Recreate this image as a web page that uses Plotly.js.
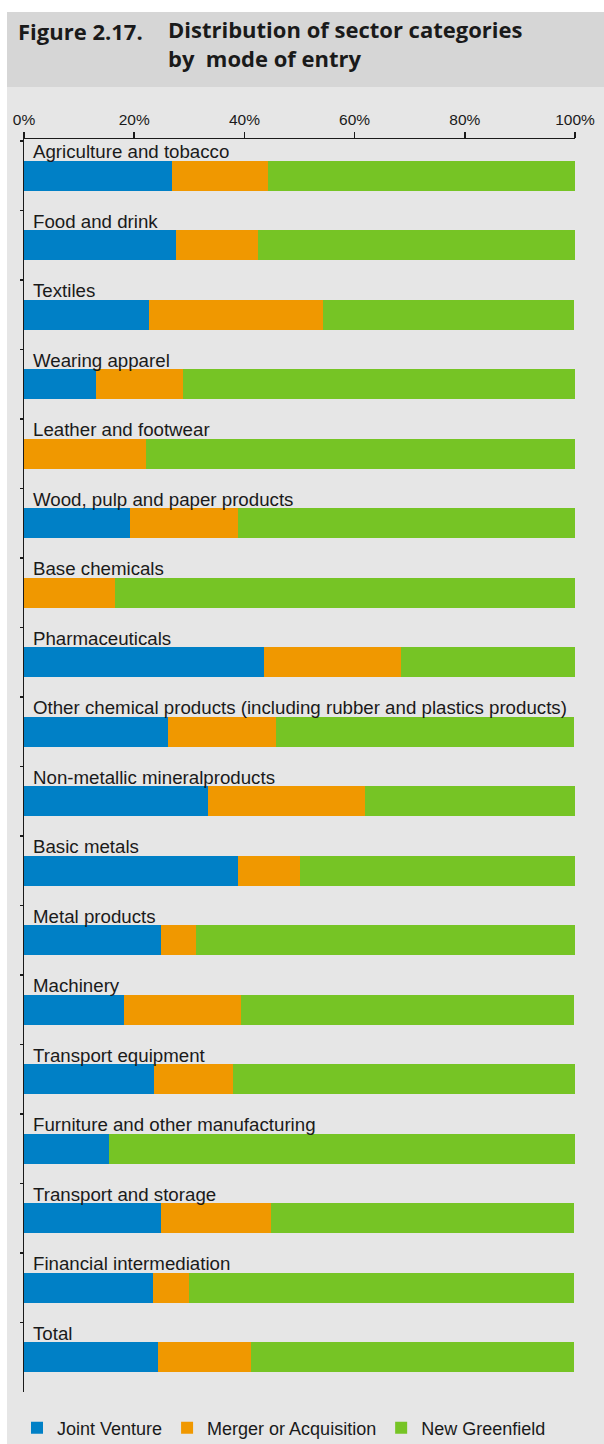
<!DOCTYPE html>
<html>
<head>
<meta charset="utf-8">
<script src="https://cdn.plot.ly/plotly-3.0.1.min.js"></script>
<style>
  html, body { margin: 0; padding: 0; background: #ffffff; }
  #chart { width: 604px; height: 1444px; }
</style>
</head>
<body>
<div id="chart"></div>
<script>
// ---- data (percent of entries by mode) ----
const categories = [
  "Agriculture and tobacco",
  "Food and drink",
  "Textiles",
  "Wearing apparel",
  "Leather and footwear",
  "Wood, pulp and paper products",
  "Base chemicals",
  "Pharmaceuticals",
  "Other chemical products (including rubber and plastics products)",
  "Non-metallic mineralproducts",
  "Basic metals",
  "Metal products",
  "Machinery",
  "Transport equipment",
  "Furniture and other manufacturing",
  "Transport and storage",
  "Financial intermediation",
  "Total"
];
const jointVenture = [26.9, 27.5, 22.7, 13.1, 0, 19.2, 0, 43.6, 26.1, 33.4, 38.8, 24.9, 18.1, 23.6, 15.4, 24.9, 23.4, 24.3];
const mergerAcq    = [17.4, 14.9, 31.6, 15.8, 22.1, 19.6, 16.6, 24.9, 19.6, 28.5, 11.2, 6.3, 21.3, 14.3, 0, 19.9, 6.5, 16.9];
const greenfield   = [55.7, 57.6, 45.5, 71.1, 77.9, 61.2, 83.4, 31.5, 54.1, 38.1, 50.0, 68.8, 60.4, 62.1, 84.6, 55.0, 69.9, 58.6];
const seriesNames  = ["Joint Venture", "Merger or Acquisition", "New Greenfield"];
const seriesColors = ["#0080c6", "#f09800", "#76c425"];
const tickValues   = [0, 20, 40, 60, 80, 100];
const tickLabels   = ["0%", "20%", "40%", "60%", "80%", "100%"];
const titleNumber  = "Figure 2.17.";
const titleText    = "Distribution of sector categories<br>by&nbsp; mode of entry";

// ---- layout geometry (pixels) ----
const W = 604, H = 1444;
const M = { l: 24, r: 29, t: 139, b: 52, autoexpand: false };
const plotW = W - M.l - M.r, plotH = H - M.t - M.b;
const px2x = p => (p - M.l) / plotW;
const px2y = p => (H - M.b - p) / plotH;

const seriesValues = [jointVenture, mergerAcq, greenfield];
const traces = seriesNames.map((name, i) => ({
  type: "bar",
  orientation: "h",
  name: name,
  y: categories,
  x: seriesValues[i],
  marker: { color: seriesColors[i], line: { width: 0 } },
  width: 0.43,
  hoverinfo: "name+x"
}));

const labelFont = { family: "Liberation Sans, Arial, sans-serif", size: 18.7, color: "#1a1a1a" };
const titleFont = { family: "Open Sans, sans-serif", size: 22, color: "#1a1a1a", weight: 700 };

const annotations = categories.map(c => ({
  x: 0, xref: "x", y: c, yref: "y",
  text: c, showarrow: false,
  xanchor: "left", yanchor: "middle",
  xshift: 7, yshift: 24,
  font: labelFont
}));
annotations.push({
  x: px2x(16), xref: "paper", y: px2y(31), yref: "paper",
  text: titleNumber, showarrow: false,
  xanchor: "left", yanchor: "middle",
  font: titleFont
});

const layout = {
  width: W, height: H,
  margin: M,
  paper_bgcolor: "#ffffff",
  plot_bgcolor: "rgba(0,0,0,0)",
  barmode: "stack",
  showlegend: true,
  title: {
    text: titleText,
    xref: "container", yref: "container",
    x: 168 / W, xanchor: "left",
    y: 1 - 38 / H, yanchor: "top",
    font: titleFont
  },
  xaxis: {
    side: "top",
    range: [0, 100],
    tickvals: tickValues,
    ticktext: tickLabels,
    ticks: "outside", ticklen: 6, tickwidth: 1.5, tickcolor: "#1a1a1a",
    showline: true, linecolor: "#1a1a1a", linewidth: 1.5,
    showgrid: false, zeroline: false,
    tickfont: { family: "Liberation Sans, Arial, sans-serif", size: 15.5, color: "#1a1a1a" },
    fixedrange: true
  },
  yaxis: {
    type: "category",
    categoryorder: "array", categoryarray: categories,
    range: [17.5, -0.53],
    showticklabels: false,
    ticks: "outside", tickson: "boundaries", ticklen: 3, tickwidth: 1.5, tickcolor: "#1a1a1a",
    showline: true, linecolor: "#1a1a1a", linewidth: 1.5,
    showgrid: false, zeroline: false,
    fixedrange: true
  },
  legend: {
    orientation: "h",
    x: px2x(17), xanchor: "left",
    y: px2y(1428), yanchor: "middle",
    bgcolor: "rgba(0,0,0,0)",
    font: { family: "Liberation Sans, Arial, sans-serif", size: 18, color: "#1a1a1a" },
    traceorder: "normal"
  },
  annotations: annotations,
  shapes: [
    { type: "rect", layer: "below", xref: "paper", yref: "paper",
      x0: px2x(7), x1: px2x(W), y0: px2y(H), y1: px2y(87),
      fillcolor: "#e6e6e6", line: { width: 0 } },
    { type: "rect", layer: "below", xref: "paper", yref: "paper",
      x0: px2x(7), x1: px2x(W), y0: px2y(87), y1: px2y(12),
      fillcolor: "#d6d6d6", line: { width: 0 } }
  ]
};

Plotly.newPlot("chart", traces, layout, { displayModeBar: false, staticPlot: true });
</script>
</body>
</html>
